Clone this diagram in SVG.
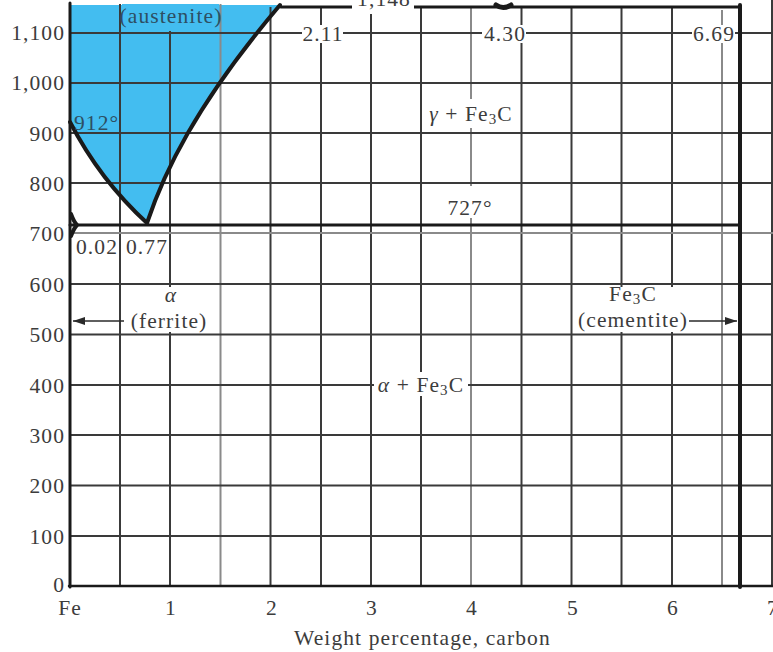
<svg xmlns="http://www.w3.org/2000/svg" width="773" height="652" viewBox="0 0 773 652">
<defs>
<style>
.t{font-family:"Liberation Serif","Times New Roman",serif;font-size:21.5px;letter-spacing:1.1px;fill:#3c3c3c}
.m{text-anchor:middle}
.e{text-anchor:end}
.g{stroke:#3a3a3a;stroke-width:2;fill:none}
.gl{stroke:#8a8a8a;stroke-width:2;fill:none}
.k{stroke:#1a1a1a;fill:none;stroke-linecap:round;stroke-linejoin:round}
.wb{fill:#ffffff}
</style>
<marker id="ah" viewBox="0 0 12 8" refX="12" refY="4" markerWidth="12" markerHeight="8" markerUnits="userSpaceOnUse" orient="auto">
<path d="M0,0 L12,4 L0,8 Z" fill="#2a2a2a"/>
</marker>
</defs>
<rect width="773" height="652" fill="#ffffff"/>
<g id="austenite-region">
<path d="M70,5 L70,122 Q100,180 147,223 C163,175 195,105 280,5 Z" fill="#43bdf0"/>
</g>
<g id="grid">
<path class="g" d="M120,4V586 M170,4V586 M270.5,7V586 M321,7V586 M371,7V586 M421,7V586 M521.5,7V586 M571.5,7V586 M621.5,7V586 M672,7V586 M772,0V586"/>
<path class="gl" d="M220.5,4V586 M471,7V586 M722,10V586"/>
<path class="g" d="M70,33H773 M70,83H773 M70,133H773 M70,183H773 M70,284H773 M70,334.5H773 M70,385H773 M70,435H773 M70,485.5H773 M70,536H773"/>
<path class="gl" d="M70,233H773"/>
</g>
<g id="phase-boundaries">
<path class="k" stroke-width="4" d="M70,122 Q100,180 147,223 C163,175 195,105 280,5"/>
<path class="k" stroke-width="3" d="M281,7H740"/>
<path class="k" stroke-width="3" d="M70,225H740"/>
<path class="k" stroke-width="4" d="M71,214 Q74,222 77,225 Q74,228 71,236"/>
<path class="k" stroke-width="5" d="M496,5 Q503,10 511,5"/>
<path class="k" stroke-width="4" d="M740,5V587"/>
</g>
<g id="axes">
<path class="k" stroke-width="3" d="M70,3V587"/>
<path class="k" stroke-width="2.5" d="M69,586H773"/>
</g>
<g id="y-labels">
<text class="t e" x="65" y="40">1,100</text>
<text class="t e" x="65" y="90">1,000</text>
<text class="t e" x="65" y="141">900</text>
<text class="t e" x="65" y="191">800</text>
<text class="t e" x="65" y="241">700</text>
<text class="t e" x="65" y="292">600</text>
<text class="t e" x="65" y="342">500</text>
<text class="t e" x="65" y="393">400</text>
<text class="t e" x="65" y="443">300</text>
<text class="t e" x="65" y="493">200</text>
<text class="t e" x="65" y="544">100</text>
<text class="t e" x="65" y="592">0</text>
</g>
<g id="x-labels">
<text class="t m" x="70" y="615">Fe</text>
<text class="t m" x="171" y="615">1</text>
<text class="t m" x="272" y="615">2</text>
<text class="t m" x="372" y="615">3</text>
<text class="t m" x="472" y="615">4</text>
<text class="t m" x="573" y="615">5</text>
<text class="t m" x="673" y="615">6</text>
<text class="t m" x="773" y="615">7</text>
<text class="t" x="294" y="645">Weight percentage, carbon</text>
</g>
<g id="label-1148">
<rect class="wb" x="352" y="0" width="62" height="14"/>
<text class="t m" x="384" y="6">1,148</text>
</g>
<g id="label-211">
<rect class="wb" x="302" y="25" width="41" height="18"/>
<text class="t m" x="323" y="41">2.11</text>
</g>
<g id="label-430">
<rect class="wb" x="482" y="25" width="44" height="18"/>
<text class="t m" x="505" y="41">4.30</text>
</g>
<g id="label-669">
<rect class="wb" x="692" y="25" width="43" height="18"/>
<text class="t m" x="714" y="41">6.69</text>
</g>
<g id="label-austenite">
<rect x="122" y="4" width="97" height="27" fill="#43bdf0"/>
<text class="t m" x="171" y="23" style="fill:#2d4f63">(austenite)</text>
</g>
<g id="label-912">
<text class="t" x="74" y="130" style="fill:#2d4f63">912°</text>
</g>
<g id="label-gamma-fe3c">
<rect class="wb" x="424" y="99" width="95" height="29"/>
<text class="t m" x="471" y="121"><tspan font-style="italic">γ</tspan> + Fe<tspan font-size="15" dy="3">3</tspan><tspan dy="-3">C</tspan></text>
</g>
<g id="label-727">
<rect class="wb" x="446" y="186" width="46" height="32"/>
<text class="t m" x="470" y="215">727°</text>
</g>
<g id="label-002">
<rect class="wb" x="75" y="236" width="41" height="22"/>
<text class="t m" x="97" y="254">0.02</text>
</g>
<g id="label-077">
<rect class="wb" x="125" y="236" width="43" height="22"/>
<text class="t m" x="147" y="254">0.77</text>
</g>
<g id="label-ferrite">
<rect class="wb" x="126" y="287" width="86" height="45"/>
<text class="t m" x="171" y="302" font-style="italic">α</text>
<text class="t m" x="169" y="328">(ferrite)</text>
</g>
<g id="label-cementite">
<rect class="wb" x="574" y="287" width="116" height="45"/>
<text class="t m" x="633" y="301">Fe<tspan font-size="15" dy="3">3</tspan><tspan dy="-3">C</tspan></text>
<text class="t m" x="633" y="327">(cementite)</text>
</g>
<g id="label-alpha-fe3c">
<rect class="wb" x="374" y="372" width="94" height="24"/>
<text class="t m" x="421" y="392"><tspan font-style="italic">α</tspan> + Fe<tspan font-size="15" dy="3">3</tspan><tspan dy="-3">C</tspan></text>
</g>
<g id="connectors">
<path d="M124,321H73" stroke="#2a2a2a" stroke-width="1.5" fill="none" marker-end="url(#ah)"/>
<path d="M689,321H737" stroke="#2a2a2a" stroke-width="1.5" fill="none" marker-end="url(#ah)"/>
</g>
</svg>
